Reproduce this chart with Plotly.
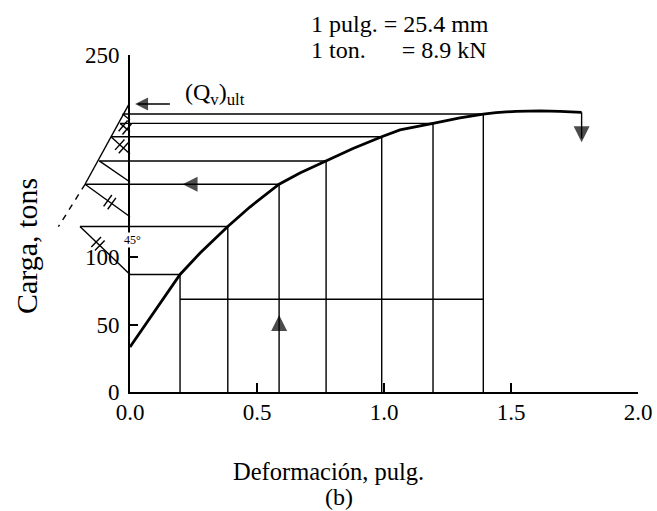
import math
import plotly.graph_objects as go

# ---------------- data ----------------
curve_defl = [0.0, 0.098, 0.197, 0.276, 0.385, 0.472, 0.587, 0.669, 0.772, 0.878,
              0.991, 1.063, 1.193, 1.299, 1.391, 1.441, 1.520, 1.614, 1.693, 1.778]
curve_load = [33.4, 60.1, 87.2, 103.1, 122.8, 137.2, 154.1, 162.5, 171.4, 180.6,
              189.4, 194.4, 199.3, 203.3, 206.2, 207.3, 208.2, 208.5, 208.2, 207.5]

# Mazurkiewicz construction points (equal settlement steps)
step_defl = [0.197, 0.385, 0.587, 0.772, 0.991, 1.193, 1.391]
step_load = [87.2, 122.8, 154.1, 171.4, 189.4, 199.3, 206.2]
step_left = [0.0, -0.197, -0.177, -0.121, -0.075, -0.039, -0.029]
diag_axis_load = [None, 87.2, 130.0, 155.8, 176.6, 193.1, 201.8]
hash_pos = [None, 0.36, 0.55, None, 0.56, 0.5, None]
base_load = 68.8

qu_load = 213.6
qu_axis_defl = -0.004
env_dash_defl = -0.282
env_dash_load = 122.6

qu_arrow_defl = [0.157, 0.020]        # tail, tip
left_arrow_tip = 0.207                # on step 2 horizontal
up_arrow_tip = 57.1                   # on step 2 vertical
down_arrow_tip = 185.2                # under curve end

angle_label = ("45°", 0.008, 112.8)

x_ticks = [0.0, 0.5, 1.0, 1.5, 2.0]
x_tick_text = ["0.0", "0.5", "1.0", "1.5", "2.0"]
y_ticks = [0, 50, 100, 250]
y_tick_text = ["0", "50", "100", "250"]

# ---------------- layout geometry ----------------
W, H = 657, 511
FONT = "Liberation Serif"
x_dom = [130 / W, 638 / W]
x_range = [0.0, 2.0]
SX = (x_dom[1] - x_dom[0]) * W / (x_range[1] - x_range[0])
x2_dom = [40 / W, 638 / W]
x2_range = [x_range[1] - (x2_dom[1] - x2_dom[0]) * W / SX, x_range[1]]
y_dom = [(H - 392) / H, (H - 55) / H]
y_range = [0, 250]
SY = (y_dom[1] - y_dom[0]) * H / (y_range[1] - y_range[0])

thin = dict(color="black", width=1.4)
E = dict(xaxis="x2", yaxis="y", hoverinfo="skip", showlegend=False)

fig = go.Figure()

# verticals (on the main x axis, same scale as x2)
vx, vy = [], []
for d, q in zip(step_defl, step_load):
    vx += [d, d, None]
    vy += [y_range[0], q, None]
fig.add_trace(go.Scatter(x=vx, y=vy, mode="lines", line=thin, xaxis="x", yaxis="y",
                         hoverinfo="skip", showlegend=False))

# horizontals
hx, hy = [], []
for l, d, q in zip(step_left, step_defl, step_load):
    hx += [l, d, None]
    hy += [q, q, None]
hx += [step_defl[0], step_defl[-1], None]
hy += [base_load, base_load, None]
fig.add_trace(go.Scatter(x=hx, y=hy, mode="lines", line=thin, **E))

# diagonals
dx, dy = [], []
for l, q, qa in zip(step_left, step_load, diag_axis_load):
    if qa is None:
        continue
    dx += [l, 0.0, None]
    dy += [q, qa, None]
fig.add_trace(go.Scatter(x=dx, y=dy, mode="lines", line=thin, **E))

# envelope line (solid + dashed extension)
fig.add_trace(go.Scatter(x=[qu_axis_defl, step_left[2]], y=[qu_load, step_load[2]], mode="lines",
                         line=thin, **E))
fig.add_trace(go.Scatter(x=[step_left[2], env_dash_defl], y=[step_load[2], env_dash_load], mode="lines",
                         line=dict(color="black", width=1.4, dash="6px,6px"), **E))

# hash marks on diagonals
mx, my, ma = [], [], []
for l, q, qa, t in zip(step_left, step_load, diag_axis_load, hash_pos):
    if t is None or qa is None:
        continue
    dxp = (0.0 - l) * SX
    dyp = (qa - q) * SY
    L = math.hypot(dxp, dyp)
    ux, uy = dxp / L, dyp / L
    cx, cy = l + t * (0.0 - l), q + t * (qa - q)
    ang = math.degrees(math.atan2(-dyp, dxp))
    for s in (-2.5, 2.5):
        mx.append(cx + s * ux / SX)
        my.append(cy + s * uy / SY)
        ma.append(ang)
fig.add_trace(go.Scatter(x=mx, y=my, mode="markers", **E,
                         marker=dict(symbol="line-ns", size=10, angle=ma,
                                     line=dict(color="black", width=1.4))))

# arrow shafts
fig.add_trace(go.Scatter(x=[qu_arrow_defl[0], qu_arrow_defl[1] + 0.01, None, curve_defl[-1], curve_defl[-1]],
                         y=[qu_load, qu_load, None, curve_load[-1], down_arrow_tip + 3],
                         mode="lines", line=thin, **E))

# load-settlement curve
fig.add_trace(go.Scatter(x=curve_defl, y=curve_load, mode="lines",
                         line=dict(color="black", width=2.8), **E))

# arrow heads (tip at the point)
fig.add_trace(go.Scatter(
    x=[qu_arrow_defl[1], left_arrow_tip, step_defl[2], curve_defl[-1]],
    y=[qu_load, step_load[2], up_arrow_tip, down_arrow_tip],
    mode="markers", **E,
    marker=dict(symbol=["arrow-left", "arrow-left", "arrow-up", "arrow-down"],
                size=[13, 15, 16, 16], color="black", line=dict(width=0))))

annotations = [
    dict(text=angle_label[0], x=angle_label[1], y=angle_label[2], xref="x2", yref="y",
         showarrow=False, font=dict(family=FONT, size=12, color="black"),
         bgcolor="white", borderpad=0),
    dict(text="(Q<sub>v</sub>)<sub>ult</sub>", x=183 / W, y=(H - 94) / H, xref="paper", yref="paper",
         xanchor="left", yanchor="middle", showarrow=False, font=dict(family=FONT, size=24, color="black")),
    dict(text="1 pulg. = 25.4 mm", x=309 / W, y=(H - 24) / H, xref="paper", yref="paper",
         xanchor="left", yanchor="middle", showarrow=False, font=dict(family=FONT, size=24, color="black")),
    dict(text="1 ton.\u00a0\u00a0\u00a0\u00a0\u00a0\u00a0= 8.9 kN", x=309 / W, y=(H - 50) / H,
         xref="paper", yref="paper", xanchor="left", yanchor="middle", showarrow=False,
         font=dict(family=FONT, size=24, color="black")),
    dict(text="Carga, tons", x=26 / W, y=(H - 246) / H, xref="paper", yref="paper", textangle=-90,
         xanchor="center", yanchor="middle", showarrow=False, font=dict(family=FONT, size=30, color="black")),
    dict(text="Deformación, pulg.", x=328 / W, y=(H - 471) / H, xref="paper", yref="paper",
         xanchor="center", yanchor="middle", showarrow=False, font=dict(family=FONT, size=24.5, color="black")),
    dict(text="(b)", x=339 / W, y=(H - 497) / H, xref="paper", yref="paper",
         xanchor="center", yanchor="middle", showarrow=False, font=dict(family=FONT, size=24, color="black")),
]

tick_font = dict(family=FONT, size=23, color="black")
fig.update_layout(
    template="none",
    width=W, height=H, margin=dict(l=0, r=0, t=0, b=0, pad=0), autosize=False,
    font=dict(family=FONT, color="black"),
    paper_bgcolor="white", plot_bgcolor="rgba(0,0,0,0)", showlegend=False,
    xaxis=dict(domain=x_dom, range=x_range, anchor="y", showline=True, linecolor="black", linewidth=2,
               ticks="inside", ticklen=9, tickwidth=1.6, tickcolor="black", tickvals=x_ticks,
               ticktext=x_tick_text, showgrid=False, zeroline=False, tickfont=tick_font,
               ticklabelstandoff=-2, automargin=False),
    xaxis2=dict(domain=x2_dom, range=x2_range, anchor="y", visible=False, showgrid=False,
                zeroline=False, automargin=False),
    yaxis=dict(domain=y_dom, range=y_range, anchor="x", showline=True, linecolor="black", linewidth=2,
               ticks="inside", ticklen=8, tickwidth=1.6, tickcolor="black", tickvals=y_ticks,
               ticktext=y_tick_text, showgrid=False, zeroline=False, tickfont=tick_font,
               ticklabelstandoff=4, automargin=False),
    annotations=annotations,
)

fig.write_html(
    "out.html",
    config={"displayModeBar": False, "responsive": False},
    post_script="document.body.style.margin='0';document.body.style.padding='0';"
                "document.body.style.overflow='hidden';",
)
